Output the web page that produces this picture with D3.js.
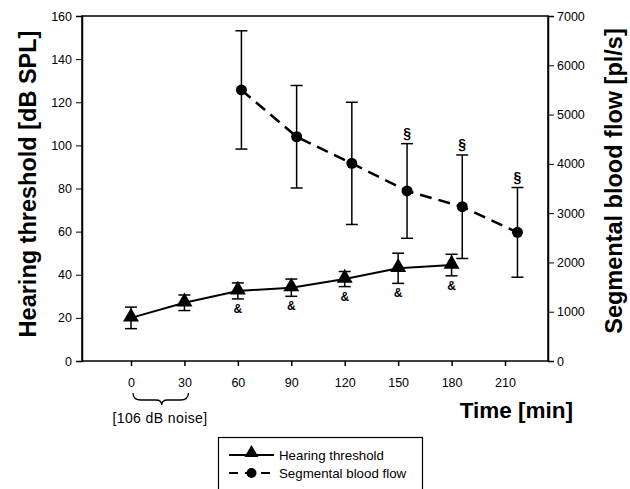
<!DOCTYPE html>
<html>
<head>
<meta charset="utf-8">
<script src="https://cdnjs.cloudflare.com/ajax/libs/d3/7.8.5/d3.min.js"></script>
<style>
  body { margin: 0; background: #fff; }
  svg { display: block; font-family: "Liberation Sans", Arial, sans-serif; }
</style>
</head>
<body>
<div id="chart"></div>
<script>
// hearing threshold (left axis, dB SPL)
var htTime = [0, 30, 60, 90, 120, 150, 180];
var htMean = [20, 27, 32.5, 34, 38, 43, 44.5];
var htErr  = [5, 3.6, 3.7, 4, 3.5, 7, 5];
var htMark = [false, false, true, true, true, true, true];   // "&"

// segmental blood flow (right axis, pl/s)
var bfTime = [62, 93, 124, 155, 186, 217];
var bfMean = [5500, 4550, 4010, 3450, 3130, 2610];
var bfErr  = [1200, 1040, 1240, 960, 1050, 910];
var bfMark = [false, false, false, true, true, true];        // "§"

var xTicks = [0, 30, 60, 90, 120, 150, 180, 210];
var leftTicks = [0, 20, 40, 60, 80, 100, 120, 140, 160];
var rightTicks = [0, 1000, 2000, 3000, 4000, 5000, 6000, 7000];

var width = 630, height = 489;
var plot = {left: 82, right: 548, top: 16, bottom: 361};

var svg = d3.select("#chart").append("svg")
    .attr("width", width)
    .attr("height", height);

var x = d3.scaleLinear().domain([0, 210]).range([131, 505]);
var yL = d3.scaleLinear().domain([0, 160]).range([plot.bottom, plot.top]);
var yR = d3.scaleLinear().domain([0, 7000]).range([plot.bottom, plot.top]);

// frame
svg.append("rect")
    .attr("x", plot.left).attr("y", plot.top)
    .attr("width", plot.right - plot.left).attr("height", plot.bottom - plot.top)
    .attr("fill", "none").attr("stroke", "#000").attr("stroke-width", 1.5);

// left axis
var gL = svg.append("g").attr("transform", "translate(" + plot.left + ",0)");
gL.call(d3.axisLeft(yL).tickValues(d3.range(0, 161, 5)).tickSize(3).tickFormat(""));
gL.call(d3.axisLeft(yL).tickValues(leftTicks).tickSize(6).tickFormat(d3.format("d")))
gL.selectAll(".domain").attr("stroke-width", 1.5);
gL.selectAll("text").attr("font-size", 12.5).attr("fill", "#000").attr("dx", "-1");

// right axis
var gR = svg.append("g").attr("transform", "translate(" + plot.right + ",0)");
gR.call(d3.axisRight(yR).tickValues(d3.range(0, 7001, 200)).tickSize(3).tickFormat(""));
gR.call(d3.axisRight(yR).tickValues(rightTicks).tickSize(6).tickFormat(d3.format("d")));
gR.selectAll(".domain").attr("stroke-width", 1.5);
gR.selectAll("text").attr("font-size", 12.5).attr("fill", "#000");

// bottom axis
var gB = svg.append("g").attr("transform", "translate(0," + plot.bottom + ")");
gB.call(d3.axisBottom(x).tickValues(xTicks).tickSize(5).tickPadding(12).tickFormat(d3.format("d")));
gB.select(".domain").remove();
gB.selectAll("line").attr("stroke-width", 1.5);
gB.selectAll("text").attr("font-size", 12.5).attr("fill", "#000");

// axis titles
svg.append("text")
    .attr("transform", "translate(36," + 184 + ") rotate(-90)")
    .attr("text-anchor", "middle")
    .attr("font-size", 23.5).attr("font-weight", "bold")
    .text("Hearing threshold [dB SPL]");
svg.append("text")
    .attr("transform", "translate(622," + 181 + ") rotate(-90)")
    .attr("text-anchor", "middle")
    .attr("font-size", 23.5).attr("font-weight", "bold")
    .text("Segmental blood flow [pl/s]");
svg.append("text")
    .attr("x", 573).attr("y", 418)
    .attr("text-anchor", "end")
    .attr("font-size", 22.5).attr("font-weight", "bold")
    .text("Time [min]");

// noise brace
var bx0 = x(0) + 2, bx1 = x(30) + 4, bm = (bx0 + bx1) / 2 + 1, by = 393;
svg.append("path")
    .attr("d", "M" + bx0 + "," + by + " Q" + bx0 + "," + (by + 7) + " " + (bx0 + 8) + "," + (by + 7) +
        " L" + (bm - 6) + "," + (by + 7) + " Q" + bm + "," + (by + 7) + " " + bm + "," + (by + 12) +
        " Q" + bm + "," + (by + 7) + " " + (bm + 6) + "," + (by + 7) +
        " L" + (bx1 - 8) + "," + (by + 7) + " Q" + bx1 + "," + (by + 7) + " " + bx1 + "," + by)
    .attr("fill", "none").attr("stroke", "#000").attr("stroke-width", 1.3);
svg.append("text")
    .attr("x", 160).attr("y", 423)
    .attr("text-anchor", "middle")
    .attr("font-size", 14).attr("letter-spacing", 0.4)
    .text("[106 dB noise]");

// error bars
function errBars(times, means, errs, y) {
    var g = svg.append("g").attr("stroke", "#000").attr("stroke-width", 1.5);
    times.forEach(function (t, i) {
        var cx = x(t), top = y(means[i] + errs[i]), bot = y(means[i] - errs[i]);
        g.append("line").attr("x1", cx).attr("x2", cx).attr("y1", top).attr("y2", bot);
        g.append("line").attr("x1", cx - 6).attr("x2", cx + 6).attr("y1", top).attr("y2", top);
        g.append("line").attr("x1", cx - 6).attr("x2", cx + 6).attr("y1", bot).attr("y2", bot);
    });
}
errBars(bfTime, bfMean, bfErr, yR);
errBars(htTime, htMean, htErr, yL);

// lines
var bfLine = d3.line().x(function (d, i) { return x(bfTime[i]); }).y(function (d) { return yR(d); });
svg.append("path").datum(bfMean).attr("d", bfLine)
    .attr("fill", "none").attr("stroke", "#000").attr("stroke-width", 2.5)
    .attr("stroke-dasharray", "12,7");

var htLine = d3.line().x(function (d, i) { return x(htTime[i]); }).y(function (d) { return yL(d); });
svg.append("path").datum(htMean).attr("d", htLine)
    .attr("fill", "none").attr("stroke", "#000").attr("stroke-width", 2);

// markers
var tri = d3.symbol().type(d3.symbolTriangle).size(110);
svg.append("g").selectAll("path").data(htMean).enter().append("path")
    .attr("d", tri)
    .attr("transform", function (d, i) { return "translate(" + x(htTime[i]) + "," + (yL(d) - 1) + ")"; })
    .attr("fill", "#000");
svg.append("g").selectAll("circle").data(bfMean).enter().append("circle")
    .attr("cx", function (d, i) { return x(bfTime[i]); })
    .attr("cy", function (d) { return yR(d); })
    .attr("r", 5.5).attr("fill", "#000");

// significance marks
svg.append("g").selectAll("text").data(htTime.filter(function (t, i) { return htMark[i]; })).enter()
    .append("text")
    .attr("x", function (t) { return x(t); })
    .attr("y", function (t) {
        var i = htTime.indexOf(t);
        return yL(htMean[i] - htErr[i]) + 14;
    })
    .attr("text-anchor", "middle").attr("font-size", 12).attr("font-weight", "bold")
    .text("&");
svg.append("g").selectAll("text").data(bfTime.filter(function (t, i) { return bfMark[i]; })).enter()
    .append("text")
    .attr("x", function (t) { return x(t); })
    .attr("y", function (t) {
        var i = bfTime.indexOf(t);
        return yR(bfMean[i] + bfErr[i]) - 6;
    })
    .attr("text-anchor", "middle").attr("font-size", 14).attr("font-weight", "bold")
    .text("§");

// legend
var lg = svg.append("g");
lg.append("rect").attr("x", 218.5).attr("y", 437.5).attr("width", 204).attr("height", 60)
    .attr("fill", "#fff").attr("stroke", "#000").attr("stroke-width", 1.2);
var items = [
    {label: "Hearing threshold", dash: null, mark: "tri", y: 455},
    {label: "Segmental blood flow", dash: "7,5", mark: "dot", y: 473}
];
items.forEach(function (it) {
    lg.append("line").attr("x1", 229).attr("x2", 274).attr("y1", it.y).attr("y2", it.y)
        .attr("stroke", "#000").attr("stroke-width", 2)
        .attr("stroke-dasharray", it.dash ? "9,7" : null);
    if (it.mark === "tri") {
        lg.append("path").attr("d", d3.symbol().type(d3.symbolTriangle).size(85))
            .attr("transform", "translate(251.5," + (it.y - 2) + ")");
    } else {
        lg.append("circle").attr("cx", 251.5).attr("cy", it.y).attr("r", 5);
    }
    lg.append("text").attr("x", 279).attr("y", it.y + 4.5)
        .attr("font-size", 13.3).text(it.label);
});
</script>
</body>
</html>
